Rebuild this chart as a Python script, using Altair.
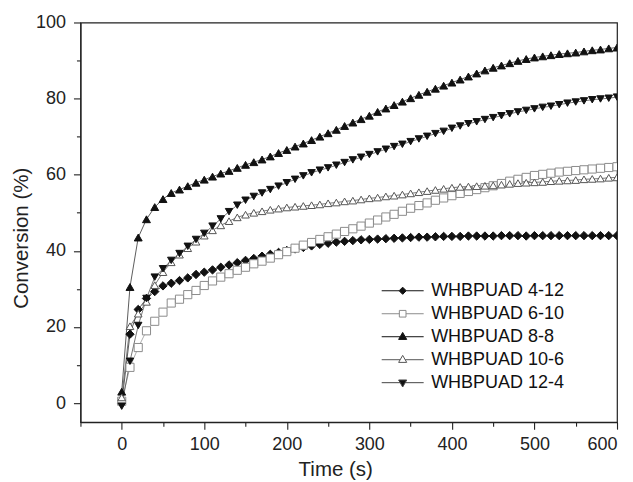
import altair as alt
import pandas as pd

FONT = "Liberation Sans"

time_s = list(range(0, 610, 10))

series_names = ["WHBPUAD 4-12", "WHBPUAD 6-10", "WHBPUAD 8-8", "WHBPUAD 10-6", "WHBPUAD 12-4"]

s4_12 = [0.0, 18.1, 24.6, 27.5, 29.3, 30.8, 31.5, 32.2, 32.9, 33.8,
         34.4, 35.0, 35.7, 36.3, 36.9, 37.5, 38.0, 38.6, 39.1, 39.6,
         40.1, 40.5, 40.9, 41.3, 41.7, 42.0, 42.3, 42.5, 42.7, 42.9,
         43.0, 43.1, 43.2, 43.3, 43.4, 43.5, 43.6, 43.6, 43.7, 43.8,
         43.8, 43.8, 43.9, 43.9, 43.9, 43.9, 44.0, 44.0, 44.0, 43.9,
         44.0, 44.0, 44.0, 44.0, 44.0, 44.0, 44.0, 44.0, 44.0, 44.0,
         44.0]
s6_10 = [0.5, 9.4, 14.6, 19.0, 21.5, 23.9, 26.3, 27.3, 28.5, 29.6,
         30.9, 32.1, 33.1, 34.0, 34.9, 35.7, 36.6, 37.3, 38.1, 39.0,
         39.8, 40.7, 41.5, 42.2, 43.0, 43.7, 44.4, 45.1, 45.8, 46.5,
         47.3, 48.1, 48.9, 49.6, 50.4, 51.2, 51.9, 52.6, 53.3, 53.9,
         54.5, 55.1, 55.6, 56.1, 56.6, 57.1, 57.7, 58.3, 58.8, 59.3,
         59.8, 60.1, 60.4, 60.7, 60.9, 61.1, 61.3, 61.5, 61.7, 61.9,
         62.1]
s8_8 = [3.0, 30.5, 43.5, 48.3, 51.5, 53.6, 55.2, 56.1, 57.0, 57.9,
        58.7, 59.5, 60.3, 61.0, 61.8, 62.6, 63.3, 64.0, 64.8, 65.7,
        66.5, 67.4, 68.2, 69.1, 70.0, 70.9, 71.8, 72.8, 73.7, 74.6,
        75.5, 76.5, 77.4, 78.3, 79.2, 80.1, 81.0, 81.8, 82.6, 83.4,
        84.2, 85.0, 85.8, 86.6, 87.4, 88.1, 88.7, 89.3, 89.9, 90.4,
        90.8, 91.1, 91.4, 91.7, 91.9, 92.1, 92.4, 92.7, 92.9, 93.2,
        93.4]
s10_6 = [1.5, 20.2, 23.5, 26.6, 31.0, 34.4, 37.0, 39.0, 40.7, 42.4,
         44.0, 45.4, 46.7, 47.8, 48.8, 49.5, 50.0, 50.4, 50.8, 51.1,
         51.4, 51.6, 51.8, 52.0, 52.2, 52.5, 52.7, 53.0, 53.2, 53.5,
         53.8, 54.0, 54.3, 54.5, 54.8, 55.1, 55.4, 55.7, 56.0, 56.3,
         56.6, 56.8, 56.9, 57.0, 57.1, 57.2, 57.4, 57.6, 57.8, 57.9,
         58.0, 58.1, 58.3, 58.4, 58.5, 58.6, 58.8, 58.9, 59.0, 59.2,
         59.3]
s12_4 = [-0.8, 11.0, 20.4, 27.5, 33.1, 35.3, 37.5, 39.3, 41.2, 43.0,
         44.6, 46.5, 48.4, 50.3, 52.0, 53.3, 54.3, 55.2, 56.1, 57.0,
         57.9, 58.8, 59.7, 60.5, 61.2, 61.8, 62.5, 63.2, 63.9, 64.6,
         65.3, 66.0, 66.7, 67.4, 68.0, 68.7, 69.4, 70.1, 70.8, 71.4,
         72.2, 72.8, 73.4, 73.9, 74.5, 75.0, 75.5, 76.0, 76.5, 76.9,
         77.3, 77.7, 78.0, 78.4, 78.8, 79.1, 79.4, 79.7, 79.9, 80.1,
         80.4]

x_ticks = list(range(-50, 601, 50))
y_ticks = list(range(0, 101, 10))

all_series = [s4_12, s6_10, s8_8, s10_6, s12_4]
rows = []
for name, vals in zip(series_names, all_series):
    for t, v in zip(time_s, vals):
        rows.append({"series": name, "time": t, "conv": v})
df = pd.DataFrame(rows)

# styles
shapes = ["diamond", "square", "triangle-up", "triangle-up", "triangle-down"]
fills = ["#111111", "#ffffff", "#111111", "#ffffff", "#111111"]
strokes = ["#111111", "#8c8c8c", "#111111", "#555555", "#111111"]
sizes = [70, 55, 80, 80, 80]
line_colors = ["#333333", "#9a9a9a", "#333333", "#555555", "#555555"]
legend_strokes = ["#111111", "#8c8c8c", "#111111", "#555555", "#444444"]
# legend glyph: line segment with the marker in its middle (unit = 9 px)
legend_paths = [
    "M-1,0H0.933M1.333,-0.4L1.733,0L1.333,0.4L0.933,0ZM1.733,0H3.667",
    "M-1,0H0.963M0.963,-0.37H1.703V0.37H0.963ZM1.703,0H3.667",
    "M-1,0H1.05M1.333,-0.48L1.783,0.3L0.883,0.3ZM1.61,0H3.667",
    "M-1,0H1.05M1.333,-0.48L1.783,0.3L0.883,0.3ZM1.61,0H3.667",
    "M-1,0H1.05M1.333,0.48L1.783,-0.3L0.883,-0.3ZM1.61,0H3.667",
]

x_enc = alt.X(
    "time:Q",
    scale=alt.Scale(domain=[-50, 600], nice=False, zero=False),
    axis=alt.Axis(
        values=x_ticks,
        labelExpr="datum.value % 100 === 0 ? datum.label : ''",
        tickSize={"condition": {"test": "datum.value % 100 === 0", "value": 7}, "value": 4},
        labelPadding=6,
        title="Time (s)",
        titleX=255,
        titleY=53,
        titleBaseline="alphabetic",
        titleAlign="center",
    ),
)
y_enc = alt.Y(
    "conv:Q",
    scale=alt.Scale(domain=[-5, 100], nice=False, zero=False),
    axis=alt.Axis(
        values=y_ticks,
        labelExpr="datum.value % 20 === 0 ? datum.label : ''",
        tickSize={"condition": {"test": "datum.value % 20 === 0", "value": 7}, "value": 4},
        labelPadding=8,
        title="Conversion (%)",
        titleX=-53,
        titleY=215.5,
        titleAngle=270,
        titleBaseline="alphabetic",
        titleAlign="center",
    ),
)

lines = alt.Chart(df).mark_line(strokeWidth=0.8, clip=True).encode(
    x=x_enc,
    y=y_enc,
    detail="series:N",
    stroke=alt.Stroke("series:N", scale=alt.Scale(domain=series_names, range=line_colors), legend=None),
)

points = alt.Chart(df).mark_point(strokeWidth=1, opacity=1, clip=True).encode(
    x=x_enc,
    y=y_enc,
    shape=alt.Shape("series:N", scale=alt.Scale(domain=series_names, range=shapes), legend=None),
    fill=alt.Fill("series:N", scale=alt.Scale(domain=series_names, range=fills), legend=None),
    stroke=alt.Stroke("series:N", scale=alt.Scale(domain=series_names, range=strokes), legend=None),
    size=alt.Size("series:O", scale=alt.Scale(domain=series_names, range=sizes), legend=None),
)

leg = dict(
    title=None,
    orient="none",
    legendX=301,
    legendY=259,
    padding=0,
    symbolSize=324,
    symbolStrokeWidth=1,
    symbolOpacity=1,
    labelFont=FONT,
    labelFontSize=18,
    labelColor="#111111",
    labelOffset=31,
    rowPadding=4,
)

legend_layer = alt.Chart(df).transform_filter("datum.time < -1000").mark_point(size=324, strokeWidth=1).encode(
    x=x_enc,
    y=y_enc,
    shape=alt.Shape("series:N", scale=alt.Scale(domain=series_names, range=legend_paths), legend=alt.Legend(**leg)),
    fill=alt.Fill("series:N", scale=alt.Scale(domain=series_names, range=fills), legend=alt.Legend(**leg)),
    stroke=alt.Stroke("series:N", scale=alt.Scale(domain=series_names, range=legend_strokes), legend=alt.Legend(**leg)),
)

chart = alt.layer(lines, points, legend_layer).resolve_scale(
    shape="independent", fill="independent", stroke="independent", size="independent"
).properties(
    width=537,
    height=400,
    autosize=alt.AutoSizeParams(type="none"),
    padding={"left": 72.5, "top": 14.3, "right": 8, "bottom": 58},
).configure_view(
    stroke="#222222", strokeWidth=1.2
).configure_axis(
    grid=False,
    domainColor="#222222",
    domainWidth=1.2,
    tickColor="#222222",
    tickWidth=1.1,
    labelFont=FONT,
    labelFontSize=18,
    labelColor="#222222",
    titleFont=FONT,
    titleFontSize=20.5,
    titleFontWeight="normal",
    titleColor="#222222",
)

chart.save("out.html", embed_options={"renderer": "svg", "actions": False})
